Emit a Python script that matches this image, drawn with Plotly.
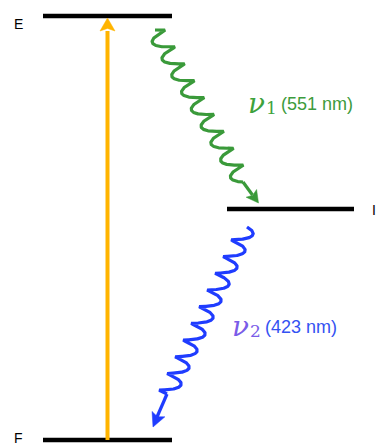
import numpy as np
import plotly.graph_objects as go

# ---- data ----
level_names = ["E", "I", "F"]
level_energy = [424, 231, 0]          # relative level heights (arbitrary units, F = 0)
transition_symbols = ["1", "2"]       # subscripts of ν
transition_nm = [551, 423]            # emitted wavelengths
emission_from = ["E", "I"]
emission_to = ["I", "F"]

# ---- styles / layout constants ----
W, H = 377, 446
Y0 = 440                               # pixel row of energy 0
left_span = (43, 172)
right_span = (227, 354)
level_span = {"E": left_span, "I": right_span, "F": left_span}
wave_colors = ["#3a9a3a", "#1f3cff"]
sym_colors = ["#3da23d", "#7a5ce8"]
txt_colors = ["#3d9b3d", "#3452f2"]
yellow = "#FFB400"

E = dict(zip(level_names, level_energy))

fig = go.Figure()

def arrowhead(tip, direction, length, half_w, color):
    u = np.asarray(direction, float)
    u = u / np.linalg.norm(u)
    n = np.array([-u[1], u[0]])
    t = np.asarray(tip, float)
    base = t - length * u
    notch = t - 0.8 * length * u
    pts = np.array([t, base + half_w * n, notch, base - half_w * n, t])
    fig.add_trace(go.Scatter(x=pts[:, 0], y=pts[:, 1], mode="lines", fill="toself",
                             fillcolor=color, line=dict(color=color, width=0.5),
                             hoverinfo="skip", showlegend=False))

def wave(p0, p1, cycles, amp, back, tilt_deg, color, width=3.0):
    """coil-like photon squiggle from p0 to p1"""
    p0 = np.asarray(p0, float); p1 = np.asarray(p1, float)
    d = p1 - p0
    L = np.linalg.norm(d)
    d = d / L
    n = np.array([-d[1], d[0]])
    c, s_ = np.cos(np.radians(tilt_deg)), np.sin(np.radians(tilt_deg))
    u = c * n + s_ * d
    th = np.linspace(0, 2 * np.pi * cycles, 1500)
    s = np.linspace(0, L, 1500)
    pts = (p0[None, :] + s[:, None] * d[None, :]
           + (amp * np.sin(th))[:, None] * u[None, :]
           + (back * (1 - np.cos(th)))[:, None] * d[None, :])
    fig.add_trace(go.Scatter(x=pts[:, 0], y=pts[:, 1], mode="lines",
                             line=dict(color=color, width=width),
                             hoverinfo="skip", showlegend=False))
    return pts[-1]

# energy levels
for name in level_names:
    x0, x1 = level_span[name]
    fig.add_trace(go.Scatter(x=[x0, x1], y=[E[name], E[name]], mode="lines",
                             line=dict(color="black", width=4.5),
                             hoverinfo="skip", showlegend=False))

# level labels
label_pos = {"E": (12, -8), "I": (370, -1), "F": (12, 2)}
for name in level_names:
    lx, dy = label_pos[name]
    fig.add_annotation(x=lx, y=E[name] + dy, text=name, showarrow=False,
                       xanchor="left", yanchor="middle",
                       font=dict(family="Liberation Sans", size=14, color="black"))

# excitation arrow (F -> E)
xa = 107.5
fig.add_trace(go.Scatter(x=[xa, xa], y=[E["F"], E["E"] - 15], mode="lines",
                         line=dict(color=yellow, width=4),
                         hoverinfo="skip", showlegend=False))
arrowhead((xa, E["E"] - 2), (0, 1), 13, 7.5, yellow)

# emission 1: E -> I (green)
a, b = E[emission_from[0]], E[emission_to[0]]
end = wave((155, a - 14), (243, b + 27), 9, 9, -2.2, 15, wave_colors[0], 3.2)
tip1 = (258.5, b + 6)
fig.add_trace(go.Scatter(x=[end[0], tip1[0] - 6], y=[end[1], tip1[1] + 8], mode="lines",
                         line=dict(color=wave_colors[0], width=3.2),
                         hoverinfo="skip", showlegend=False))
arrowhead(tip1, (tip1[0] - end[0], tip1[1] - end[1]), 12, 6.5, wave_colors[0])

# emission 2: I -> F (blue)
a, b = E[emission_from[1]], E[emission_to[1]]
end = wave((247, a - 18), (167, b + 46), 10, 9, 2.2, -15, wave_colors[1], 3.2)
tip2 = (153, b + 13)
fig.add_trace(go.Scatter(x=[end[0], tip2[0] + 4], y=[end[1], tip2[1] + 10], mode="lines",
                         line=dict(color=wave_colors[1], width=3.2),
                         hoverinfo="skip", showlegend=False))
arrowhead(tip2, (tip2[0] - end[0], tip2[1] - end[1]), 14, 7, wave_colors[1])

# transition labels
lab_pos = [(246, Y0 - 103), (230, Y0 - 326)]
for i in range(2):
    lx, ly = lab_pos[i]
    fig.add_annotation(x=lx, y=ly, text="<i>ν</i>", showarrow=False,
                       xanchor="left", yanchor="middle",
                       font=dict(family="DejaVu Serif", size=28, color=sym_colors[i]))
    fig.add_annotation(x=lx + 18, y=ly - 5, text=transition_symbols[i], showarrow=False,
                       xanchor="left", yanchor="middle",
                       font=dict(family="DejaVu Serif", size=17, color=sym_colors[i]))
    fig.add_annotation(x=lx + 33, y=ly - 1, text=f"({transition_nm[i]} nm)", showarrow=False,
                       xanchor="left", yanchor="middle",
                       font=dict(family="Liberation Sans", size=18, color=txt_colors[i]))

fig.update_layout(width=W, height=H, margin=dict(l=0, r=0, t=0, b=0),
                  paper_bgcolor="white", plot_bgcolor="white", showlegend=False)
fig.update_xaxes(range=[0, W], visible=False, fixedrange=True)
fig.update_yaxes(range=[Y0 - H, Y0], visible=False, fixedrange=True)

fig.write_html("out.html", config={"displayModeBar": False})
